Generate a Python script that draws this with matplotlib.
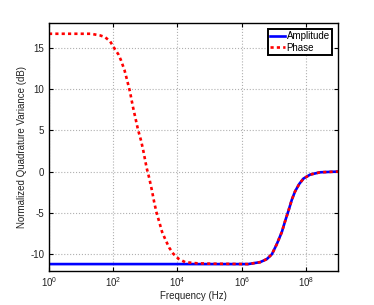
import matplotlib
matplotlib.use('Agg')
import matplotlib.pyplot as plt
import numpy as np

plt.rcParams['font.family'] = ['Liberation Sans', 'DejaVu Sans']
plt.rcParams['axes.unicode_minus'] = False

# values (log10 of frequency, dB)
amp_logf = [0.0, 6.2, 6.57, 6.78, 6.94, 7.09, 7.25, 7.35, 7.45, 7.56, 7.66,
            7.79, 7.92, 8.13, 8.44, 8.96, 9.0]
amp_db = [-11.2, -11.2, -10.97, -10.6, -10.0, -8.8, -7.3, -6.0, -4.8, -3.4,
          -2.4, -1.5, -0.85, -0.36, -0.08, 0.0, 0.0]

phase_logf = [0.0, 1.3, 1.59, 1.74, 1.90, 2.0, 2.16, 2.24, 2.35, 2.43, 2.52,
              2.61, 2.69, 2.77, 2.87, 2.94, 3.04, 3.12, 3.20, 3.28, 3.35,
              3.44, 3.52, 3.62, 3.74, 3.87, 4.03, 4.24, 4.6, 5.0, 6.2]
phase_db = [16.7, 16.7, 16.5, 16.3, 15.8, 15.15, 14.2, 13.5, 12.3, 11.1, 9.7,
            7.9, 6.5, 5.1, 3.7, 2.45, 0.45, -0.77, -2.2, -3.8, -5.0,
            -6.2, -7.3, -8.2, -9.2, -9.95, -10.55, -10.97, -11.1, -11.15, -11.2]
# above ~1e6 Hz the phase curve lies on the amplitude curve
phase_logf = phase_logf + amp_logf[2:]
phase_db = phase_db + amp_db[2:]

amp_f = 10.0 ** np.array(amp_logf)
phase_f = 10.0 ** np.array(phase_logf)

fig = plt.figure(figsize=(3.74, 3.05), dpi=100)
ax = fig.add_axes([0.131, 0.1125, 0.773, 0.812])

ax.semilogx(amp_f, amp_db, color='#0000ff', lw=1.9, label='Amplitude')
ax.semilogx(phase_f, phase_db, color='#ff0000', lw=1.9, ls=(0, (1.2, 1.2)),
            label='Phase')

ax.set_xlim(1, 1e9)
ax.set_ylim(-12, 18)
ax.set_xticks([1e0, 1e2, 1e4, 1e6, 1e8])
ax.xaxis.set_minor_locator(matplotlib.ticker.NullLocator())
ax.set_yticks([-10, -5, 0, 5, 10, 15])

ax.grid(True, color='#b0b0b0', ls=':', lw=0.8)
ax.tick_params(direction='in', top=True, right=True, labelsize=7,
               length=3, width=0.8, colors='black', labelcolor='#222222')
for s in ax.spines.values():
    s.set_linewidth(1.0)

ax.set_xlabel('Frequency (Hz)', fontsize=7, color='#222222', labelpad=1)
ax.set_ylabel('Normalized Quadrature Variance (dB)', fontsize=7,
              color='#222222', labelpad=2)

leg = ax.legend(loc='upper right', fontsize=7, handlelength=1.5,
                handletextpad=0.2, borderpad=0.25, labelspacing=0.15,
                borderaxespad=0.6, fancybox=False, framealpha=1)
leg.get_frame().set_edgecolor('black')
leg.get_frame().set_linewidth(1.4)

fig.savefig('out.png', dpi=100)
